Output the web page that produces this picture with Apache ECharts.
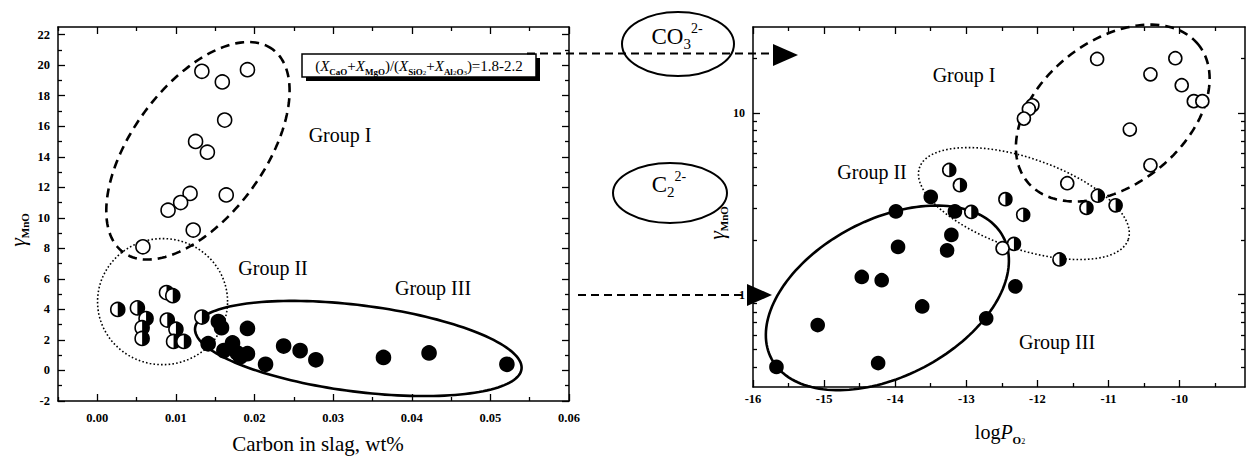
<!DOCTYPE html>
<html><head><meta charset="utf-8">
<script src="https://cdn.jsdelivr.net/npm/echarts@6/dist/echarts.min.js"></script>
<style>html,body{margin:0;padding:0;background:#fff}#c{width:1249px;height:457px}</style>
</head><body><div id="c"></div>
<script>
// ---------- tick labels ----------
const leftXTicks = [0, 0.01, 0.02, 0.03, 0.04, 0.05, 0.06];
const leftXMinor = [-0.005, 0.005, 0.015, 0.025, 0.035, 0.045, 0.055];
const leftYTicks = [-2, 0, 2, 4, 6, 8, 10, 12, 14, 16, 18, 20, 22];
const leftYMinor = [-1, 1, 3, 5, 7, 9, 11, 13, 15, 17, 19, 21];
const rightXTicks = [-16, -15, -14, -13, -12, -11, -10];
const rightXMinor = [-15.5, -14.5, -13.5, -12.5, -11.5, -10.5, -9.5];
const rightYTicks = [1, 10];
const rightYMinor = [0.4, 0.5, 0.6, 0.7, 0.8, 0.9, 2, 3, 4, 5, 6, 7, 8, 9, 20];

// ---------- left panel: Carbon in slag (wt%) vs gamma MnO ----------
const leftGroupI = [[0.0133,19.6],[0.0191,19.7],[0.0159,18.9],[0.0162,16.4],[0.0125,15.0],[0.0140,14.3],
  [0.0118,11.6],[0.0106,11.0],[0.0090,10.5],[0.0164,11.5],[0.0122,9.2],[0.0058,8.1]];
const leftGroupII = [[0.0026,4.0],[0.0051,4.1],[0.0062,3.4],[0.0057,2.8],[0.0057,2.1],[0.0088,5.1],
  [0.0096,4.9],[0.0089,3.3],[0.0100,2.7],[0.0097,1.9],[0.0110,1.9],[0.0133,3.5]];
const leftGroupIII = [[0.0141,1.75],[0.0154,3.2],[0.0158,2.8],[0.0191,2.75],[0.0161,1.3],[0.0172,1.8],
  [0.0178,1.15],[0.0182,0.9],[0.0191,1.1],[0.0214,0.4],[0.0237,1.6],[0.0258,1.3],[0.0278,0.7],
  [0.0364,0.85],[0.0422,1.15],[0.0521,0.4]];

// ---------- right panel: log PO2 vs gamma MnO (log) ----------
const rightGroupI = [[-11.16,19.8],[-10.06,20.0],[-10.41,16.3],[-9.97,14.2],[-9.80,11.6],[-9.68,11.6],
  [-10.70,8.1],[-12.07,11.0],[-12.12,10.5],[-12.19,9.3],[-10.41,5.15],[-11.58,4.1],[-12.49,1.8]];
const rightGroupII = [[-13.24,4.85],[-13.09,4.0],[-12.45,3.35],[-12.20,2.75],[-11.15,3.5],[-11.31,3.0],
  [-10.90,3.1],[-12.93,2.85],[-12.33,1.9],[-11.69,1.56]];
const rightGroupIII = [[-13.50,3.45],[-13.99,2.87],[-13.16,2.87],[-13.21,2.13],[-13.27,1.75],[-13.96,1.83],
  [-14.47,1.25],[-14.19,1.2],[-12.31,1.11],[-13.62,0.86],[-15.09,0.68],[-12.72,0.74],[-15.67,0.40],[-14.24,0.42]];

// group outlines: centre and two conjugate semi-diameters (data units; right panel y in log10)
const leftOutlineI   = {center:[0.0128,14.39], a:[0.0095,6.65],  b:[-0.00676,2.56]};
const leftOutlineII  = {center:[0.0083,4.51],  a:[0.00827,0],    b:[0,4.13]};
const leftOutlineIII = {center:[0.0332,1.44],  a:[0.02076,-1.35],b:[0.00069,2.81]};
const rightOutlineI   = {center:[-10.94,0.999], a:[1.206,0.376],  b:[-0.634,0.309]};
const rightOutlineII  = {center:[-12.19,0.501], a:[1.468,-0.198], b:[0.21,0.236]};
const rightOutlineIII = {center:[-14.11,-0.018],a:[1.629,0.336],  b:[-0.518,0.381]};

const FF = '"Liberation Serif","Times New Roman",serif';
const BLACK = '#000';

function tickAxis(grid, pos, type, min, max, major, opts) {
  opts = opts || {};
  return Object.assign({
    gridIndex: grid, type: type, position: pos, min: min, max: max,
    axisLine: {show: opts.line !== false, onZero: false, lineStyle: {color: BLACK, width: 1.5}},
    axisTick: {show: true, inside: true, length: opts.len || 7, customValues: major, lineStyle: {color: BLACK, width: 1.3}},
    axisLabel: opts.labels ? Object.assign({show: true, customValues: opts.labels, color: BLACK, fontFamily: FF,
      fontWeight: 'bold', fontSize: 12.5}, opts.labelOpt || {}) : {show: false},
    splitLine: {show: false}, minorTick: {show: false}, silent: true
  }, type === 'log' ? {logBase: 10} : {});
}

const xAxes = [
  tickAxis(0, 'bottom', 'value', -0.005, 0.06, leftXTicks, {labels: leftXTicks,
    labelOpt: {formatter: v => Number(v).toFixed(2), margin: 10}}),
  tickAxis(0, 'top', 'value', -0.005, 0.06, leftXTicks),
  tickAxis(0, 'bottom', 'value', -0.005, 0.06, leftXMinor, {line: false, len: 4}),
  tickAxis(0, 'top', 'value', -0.005, 0.06, leftXMinor, {line: false, len: 4}),
  tickAxis(1, 'bottom', 'value', -16, -9.08, rightXTicks, {labels: rightXTicks, labelOpt: {margin: 5}}),
  tickAxis(1, 'bottom', 'value', -16, -9.08, rightXMinor, {line: false, len: 4}),
  tickAxis(2, 'top', 'value', -16, -9.08, rightXTicks),
  tickAxis(2, 'top', 'value', -16, -9.08, rightXMinor, {line: false, len: 4})
];
const yAxes = [
  tickAxis(0, 'left', 'value', -2, 22.5, leftYTicks, {labels: leftYTicks, labelOpt: {margin: 8}}),
  tickAxis(0, 'right', 'value', -2, 22.5, leftYTicks),
  tickAxis(0, 'left', 'value', -2, 22.5, leftYMinor, {line: false, len: 4}),
  tickAxis(0, 'right', 'value', -2, 22.5, leftYMinor, {line: false, len: 4}),
  tickAxis(1, 'left', 'log', 0.31, 29.7, rightYTicks, {labels: rightYTicks, labelOpt: {margin: 8, fontSize: 12}}),
  tickAxis(1, 'left', 'log', 0.31, 29.7, rightYMinor, {line: false, len: 4}),
  tickAxis(2, 'right', 'log', 0.31, 29.7, rightYTicks),
  tickAxis(2, 'right', 'log', 0.31, 29.7, rightYMinor, {line: false, len: 4})
];

function outlineSeries(ell, xi, yi, logY, width, dash) {
  const cy = logY ? Math.pow(10, ell.center[1]) : ell.center[1];
  return {
    type: 'custom', xAxisIndex: xi, yAxisIndex: yi, silent: true, clip: false, z: 2,
    data: [[ell.center[0], cy]],
    renderItem: function (params, api) {
      const pts = [];
      for (let k = 0; k <= 160; k++) {
        const t = k / 160 * 2 * Math.PI;
        const x = ell.center[0] + ell.a[0] * Math.cos(t) + ell.b[0] * Math.sin(t);
        let y = ell.center[1] + ell.a[1] * Math.cos(t) + ell.b[1] * Math.sin(t);
        if (logY) y = Math.pow(10, y);
        pts.push(api.coord([x, y]));
      }
      return {type: 'polygon', shape: {points: pts},
        style: {fill: 'none', stroke: BLACK, lineWidth: width, lineDash: dash}};
    }
  };
}
function scatterSeries(data, xi, yi, size, filled) {
  return {type: 'scatter', xAxisIndex: xi, yAxisIndex: yi, data: data, symbol: 'circle', symbolSize: size,
    itemStyle: {color: filled ? BLACK : '#fff', borderColor: BLACK, borderWidth: 1.6, opacity: 1},
    emphasis: {disabled: true}, silent: true, z: 5};
}
function halfSeries(data, xi, yi, r) {
  return {type: 'custom', xAxisIndex: xi, yAxisIndex: yi, data: data, silent: true, z: 5,
    renderItem: function (params, api) {
      const p = api.coord([api.value(0), api.value(1)]);
      return {type: 'group', children: [
        {type: 'circle', shape: {cx: p[0], cy: p[1], r: r}, style: {fill: '#fff', stroke: BLACK, lineWidth: 1.6}},
        {type: 'sector', shape: {cx: p[0], cy: p[1], r0: 0, r: r, startAngle: -Math.PI / 2, endAngle: Math.PI / 2, clockwise: true},
          style: {fill: BLACK}}
      ]};
    }};
}

function label(text, x, y, size) {
  return {type: 'text', x: x, y: y, silent: true,
    style: {text: text, fontFamily: FF, fontSize: size || 20, fill: BLACK, align: 'center', verticalAlign: 'middle'}};
}
function richLabel(text, rich, x, y, rot) {
  return {type: 'text', x: x, y: y, rotation: rot || 0, silent: true,
    style: {text: text, rich: rich, align: 'center', verticalAlign: 'middle'}};
}
const subRich = {
  g: {fontFamily: FF, fontSize: 22, fontStyle: 'italic', fill: BLACK, lineHeight: 26},
  n: {fontFamily: FF, fontSize: 20, fill: BLACK, lineHeight: 26},
  p: {fontFamily: FF, fontSize: 20, fontStyle: 'italic', fill: BLACK, lineHeight: 26},
  s: {fontFamily: FF, fontSize: 11, fontWeight: 'bold', fill: BLACK, verticalAlign: 'bottom', lineHeight: 11},
  ss: {fontFamily: FF, fontSize: 8, fill: BLACK, verticalAlign: 'bottom', lineHeight: 6}
};
const boxRich = {
  n: {fontFamily: FF, fontSize: 15, fill: BLACK, lineHeight: 20},
  x: {fontFamily: FF, fontSize: 15, fontStyle: 'italic', fill: BLACK, lineHeight: 20},
  s: {fontFamily: FF, fontSize: 9, fontWeight: 'bold', fill: BLACK, verticalAlign: 'bottom', lineHeight: 9},
  ss: {fontFamily: FF, fontSize: 7, fill: BLACK, verticalAlign: 'bottom', lineHeight: 5}
};
const ionRich = {
  m: {fontFamily: FF, fontSize: 23, fill: BLACK, lineHeight: 30},
  s: {fontFamily: FF, fontSize: 15, fill: BLACK, verticalAlign: 'bottom', lineHeight: 15},
  u: {fontFamily: FF, fontSize: 14, fill: BLACK, verticalAlign: 'top', lineHeight: 16}
};

const chart = echarts.init(document.getElementById('c'), null, {renderer: 'svg'});
chart.setOption({
  animation: false,
  grid: [
    {left: 58, top: 27, width: 511, height: 374},
    {left: 753, top: 27, width: 492, height: 360},
    {left: 753, top: 27, width: 492, height: 360}
  ],
  xAxis: xAxes,
  yAxis: yAxes,
  series: [
    outlineSeries(leftOutlineI, 0, 0, false, 2.6, [9, 6]),
    outlineSeries(leftOutlineII, 0, 0, false, 1.6, [1.6, 2.2]),
    outlineSeries(leftOutlineIII, 0, 0, false, 2.6, null),
    scatterSeries(leftGroupI, 0, 0, 14, false),
    halfSeries(leftGroupII, 0, 0, 7),
    scatterSeries(leftGroupIII, 0, 0, 14, true),
    outlineSeries(rightOutlineI, 4, 4, true, 2.6, [9, 6]),
    outlineSeries(rightOutlineII, 4, 4, true, 1.6, [1.6, 2.2]),
    outlineSeries(rightOutlineIII, 4, 4, true, 2.6, null),
    scatterSeries(rightGroupI, 4, 4, 13, false),
    halfSeries(rightGroupII, 4, 4, 6.5),
    scatterSeries(rightGroupIII, 4, 4, 13, true)
  ],
  graphic: [
    {type: 'rect', silent: true, shape: {x: 306, y: 58, width: 234, height: 23}, style: {fill: BLACK}},
    {type: 'rect', silent: true, shape: {x: 302, y: 54, width: 234, height: 23}, style: {fill: '#fff', stroke: BLACK, lineWidth: 1.5}},
    richLabel('{n|(}{x|X}{s|CaO}{n|+}{x|X}{s|MgO}{n|)/(}{x|X}{s|SiO}{ss|2}{n|+}{x|X}{s|Al}{ss|2}{s|O}{ss|3}{n|)=1.8-2.2}', boxRich, 419, 66),
    {type: 'line', silent: true, shape: {x1: 527, y1: 53.5, x2: 775, y2: 53.5}, style: {stroke: BLACK, lineWidth: 2.2, lineDash: [8, 5]}},
    {type: 'polygon', silent: true, shape: {points: [[773, 44], [798, 55], [773, 66]]}, style: {fill: BLACK}},
    {type: 'line', silent: true, shape: {x1: 578, y1: 295, x2: 749, y2: 295}, style: {stroke: BLACK, lineWidth: 2.2, lineDash: [8, 5]}},
    {type: 'polygon', silent: true, shape: {points: [[747, 284], [772, 295], [747, 306]]}, style: {fill: BLACK}},
    {type: 'ellipse', silent: true, shape: {cx: 678, cy: 44, rx: 56, ry: 32}, style: {fill: 'none', stroke: BLACK, lineWidth: 2}},
    richLabel('{m|CO}{s|3}{u|2-}', ionRich, 677, 36),
    {type: 'ellipse', silent: true, shape: {cx: 670, cy: 193, rx: 57, ry: 30}, style: {fill: 'none', stroke: BLACK, lineWidth: 2}},
    richLabel('{m|C}{s|2}{u|2-}', ionRich, 669, 184),
    label('Group I', 340, 135),
    label('Group II', 273, 268),
    label('Group III', 433, 288),
    label('Group I', 964, 75),
    label('Group II', 872, 172),
    label('Group III', 1057, 342),
    label('Carbon in slag, wt%', 318, 444, 21),
    richLabel('{n|log}{p|P}{s|O}{ss|2}', subRich, 1000, 432),
    richLabel('{g|γ}{s|MnO}', subRich, 17, 230, Math.PI / 2),
    richLabel('{g|γ}{s|MnO}', subRich, 716, 223, Math.PI / 2)
  ]
});
</script></body></html>
